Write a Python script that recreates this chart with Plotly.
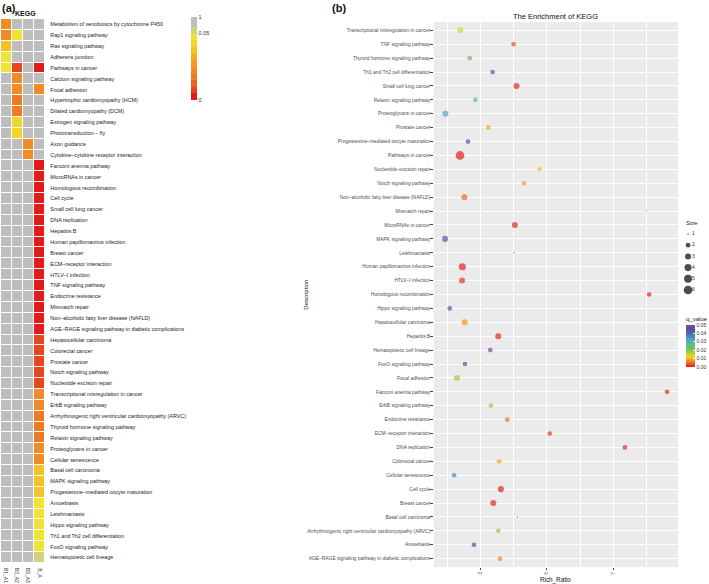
import plotly.graph_objects as go

FONT = "Liberation Sans, Arial, sans-serif"
W, H = 709, 584

# ---------------- Panel (a) data: pheatmap of KEGG p-values (1.0 = not enriched)
heat_rows = [
    "Metabolism of xenobiotics by cytochrome P450", "Rap1 signaling pathway", "Ras signaling pathway",
    "Adherens junction", "Pathways in cancer", "Calcium signaling pathway", "Focal adhesion",
    "Hypertrophic cardiomyopathy (HCM)", "Dilated cardiomyopathy (DCM)", "Estrogen signaling pathway",
    "Phototransduction \u2013 fly", "Axon guidance", "Cytokine\u2013cytokine receptor interaction",
    "Fanconi anemia pathway", "MicroRNAs in cancer", "Homologous recombination", "Cell cycle",
    "Small cell lung cancer", "DNA replication", "Hepatitis B", "Human papillomavirus infection",
    "Breast cancer", "ECM\u2013receptor interaction", "HTLV\u2013I infection", "TNF signaling pathway",
    "Endocrine resistance", "Mismatch repair", "Non\u2013alcoholic fatty liver disease (NAFLD)",
    "AGE\u2013RAGE signaling pathway in diabetic complications", "Hepatocellular carcinoma",
    "Colorectal cancer", "Prostate cancer", "Notch signaling pathway", "Nucleotide excision repair",
    "Transcriptional misregulation in cancer", "ErbB signaling pathway",
    "Arrhythmogenic right ventricular cardiomyopathy (ARVC)", "Thyroid hormone signaling pathway",
    "Relaxin signaling pathway", "Proteoglycans in cancer", "Cellular senescence",
    "Basal cell carcinoma", "MAPK signaling pathway", "Progesterone\u2013mediated oocyte maturation",
    "Amoebiasis", "Leishmaniasis", "Hippo signaling pathway", "Th1 and Th2 cell differentiation",
    "FoxO signaling pathway", "Hematopoietic cell lineage",
]
heat_cols = ["B1_A1", "B2_A2", "B3_A3", "B_A"]

p_B1_A1 = [0.023, 0.023, 0.037, 0.046, 0.048] + [1.0] * 45
p_B2_A2 = [1.0, 0.046, 1.0, 1.0, 0.007, 0.021, 0.021, 0.015, 0.015, 0.040, 0.040] + [1.0] * 39
p_B3_A3 = [1.0] * 11 + [0.021, 0.021] + [1.0] * 37
p_B_A = ([1.0, 1.0, 1.0, 1.0, 0.001, 1.0, 0.021] + [1.0] * 6 +
         [0.001, 0.001, 0.001, 0.001, 0.001, 0.001, 0.001, 0.002, 0.002, 0.002, 0.002,
          0.002, 0.002, 0.003, 0.003, 0.003] +
         [0.008, 0.008, 0.008, 0.008, 0.008] +
         [0.021, 0.021, 0.017, 0.017, 0.017, 0.021, 0.021] +
         [0.036, 0.036, 0.036] +
         [0.046, 0.046, 0.046, 0.046, 0.046] +
         [0.050])

heat_legend_ticks = ["0", "0.05", "1"]

# ---------------- Panel (b) data: bubble chart
terms = [
    "Transcriptional misregulation in cancer", "TNF signaling pathway", "Thyroid hormone signaling pathway",
    "Th1 and Th2 cell differentiation", "Small cell lung cancer", "Relaxin signaling pathway",
    "Proteoglycans in cancer", "Prostate cancer", "Progesterone\u2013mediated oocyte maturation",
    "Pathways in cancer", "Nucleotide excision repair", "Notch signaling pathway",
    "Non\u2013alcoholic fatty liver disease (NAFLD)", "Mismatch repair", "MicroRNAs in cancer",
    "MAPK signaling pathway", "Leishmaniasis", "Human papillomavirus infection", "HTLV\u2013I infection",
    "Homologous recombination", "Hippo signaling pathway", "Hepatocellular carcinoma", "Hepatitis B",
    "Hematopoietic cell lineage", "FoxO signaling pathway", "Focal adhesion", "Fanconi anemia pathway",
    "ErbB signaling pathway", "Endocrine resistance", "ECM\u2013receptor interaction", "DNA replication",
    "Colorectal cancer", "Cellular senescence", "Cell cycle", "Breast cancer", "Basal cell carcinoma",
    "Arrhythmogenic right ventricular cardiomyopathy (ARVC)", "Amoebiasis",
    "AGE\u2013RAGE signaling pathway in diabetic complications",
]
rich_ratio = [2.40, 4.00, 2.68, 3.37, 4.09, 2.85, 1.95, 3.24, 2.63, 2.39, 4.78, 4.31, 2.52,
              8.00, 4.04, 1.94, 4.01, 2.46, 2.45, 8.08, 2.08, 2.53, 3.54, 3.30, 2.54, 2.30,
              8.62, 3.32, 3.81, 5.09, 7.35, 3.57, 2.21, 3.62, 3.39, 4.12, 3.54, 2.81, 3.59]
gene_size = [3, 2, 2, 2, 3, 2, 3, 2, 2, 6, 2, 2, 3,
             1, 3, 3, 1, 4, 3, 2, 2, 3, 3, 2, 2, 3,
             2, 2, 2, 2, 2, 2, 2, 3, 3, 1, 2, 2, 2]
q_value = [0.014, 0.003, 0.022, 0.048, 0.001, 0.027, 0.032, 0.009, 0.045, 0.0001, 0.011, 0.009, 0.005,
           0.004, 0.001, 0.042, 0.044, 0.0005, 0.002, 0.001, 0.048, 0.008, 0.001, 0.049, 0.047, 0.018,
           0.001, 0.018, 0.005, 0.002, 0.001, 0.009, 0.036, 0.0005, 0.001, 0.043, 0.019, 0.045, 0.007]
size_levels = [1, 2, 3, 4, 5, 6]
q_ticks = [0.00, 0.01, 0.02, 0.03, 0.04, 0.05]

# ---------------- helpers
D05 = 67.3 / 82.7  # position of 0.05 on the (a) colour key


def to_display(p):
    if p <= 0.05:
        return p / 0.05 * D05
    return D05 + (p - 0.05) / 0.95 * (1 - D05)


def dot_px(s, smin=1, smax=6):
    # ggplot2 area scale, range c(1, 6)
    return 1.45 * (1 + 5 * ((s - smin) / (smax - smin)) ** 0.5)


def px_x(v):
    return v / W


def px_y(v):
    return 1 - v / H


bands = [(0.00, 0.08, "#E31A1C"), (0.08, 0.16, "#E6461F"), (0.16, 0.24, "#EA6224"),
         (0.24, 0.32, "#EE7A26"), (0.32, 0.40, "#F08C27"), (0.40, 0.48, "#F29C24"),
         (0.48, 0.56, "#F2AE22"), (0.56, 0.64, "#F3C224"), (0.64, 0.72, "#F2D42A"),
         (0.72, 0.80, "#EFE436"), (0.80, 0.88, "#D6D07C"), (0.88, 1.00, "#BEBEBE")]
heat_cs = []
for lo, hi, c in bands:
    heat_cs += [[lo, c], [hi, c]]

z = [[to_display(v) for v in row] for row in zip(p_B1_A1, p_B2_A2, p_B3_A3, p_B_A)]

q_cs = [[0.00, "#E41A1C"], [0.08, "#EE5A24"], [0.16, "#F5961F"], [0.23, "#F2D21C"],
        [0.30, "#C9D92D"], [0.42, "#78C04A"], [0.54, "#5CBB9A"], [0.66, "#52A2CC"],
        [0.80, "#4868B0"], [0.90, "#5A50A4"], [1.00, "#8247A2"]]

fig = go.Figure()

fig.add_trace(go.Heatmap(
    z=z, x=heat_cols, y=heat_rows, xaxis="x", yaxis="y",
    zmin=0, zmax=1, colorscale=heat_cs, xgap=1, ygap=1,
    hoverinfo="skip",
    colorbar=dict(
        x=px_x(192), xanchor="left", y=px_y(58.7), yanchor="middle",
        len=82.7 / H, lenmode="fraction", thickness=6, thicknessmode="pixels",
        outlinewidth=0, ticks="", tickmode="array",
        tickvals=[to_display(float(t)) for t in heat_legend_ticks], ticktext=heat_legend_ticks,
        tickfont=dict(size=5.5, color="#333", family=FONT), ypad=0, xpad=0,
    ),
))

fig.add_trace(go.Scatter(
    x=rich_ratio, y=terms, xaxis="x2", yaxis="y2", mode="markers",
    marker=dict(
        size=[dot_px(s) for s in gene_size], color=q_value, cmin=0, cmax=0.05,
        colorscale=q_cs, line=dict(width=0),
        colorbar=dict(
            x=px_x(688), xanchor="left", y=px_y(340.4), yanchor="middle",
            len=52.7 / H, lenmode="fraction", thickness=9, thicknessmode="pixels",
            outlinewidth=0, ticks="inside", ticklen=2, tickcolor="white",
            tickvals=q_ticks, ticktext=[f"{t:.2f}" for t in q_ticks],
            tickfont=dict(size=5, color="#333", family=FONT), ypad=0, xpad=0,
            title=dict(text="q_value", side="top", font=dict(size=6, color="#222", family=FONT)),
        ),
    ),
    showlegend=False, hoverinfo="skip",
))

# size key
fig.add_trace(go.Scatter(
    x=[6] * len(size_levels), y=size_levels, xaxis="x3", yaxis="y3", mode="markers",
    marker=dict(size=[dot_px(s) for s in size_levels], color="black", line=dict(width=0)),
    showlegend=False, hoverinfo="skip",
))
fig.add_trace(go.Scatter(
    x=[10] * len(size_levels), y=size_levels, xaxis="x3", yaxis="y3", mode="text",
    text=[str(s) for s in size_levels], textposition="middle right",
    textfont=dict(size=5, color="#333", family=FONT),
    showlegend=False, hoverinfo="skip",
))

col_label_annotations = [
    dict(text=c, x=c, xref="x", y=px_y(566), yref="paper", xanchor="center", yanchor="top",
         textangle=90, showarrow=False, font=dict(size=5, color="#333"))
    for c in heat_cols
]

fig.update_layout(
    width=W, height=H, autosize=False,
    margin=dict(l=0, r=0, t=0, b=0),
    paper_bgcolor="white", plot_bgcolor="white",
    font=dict(family=FONT, color="#333"),
    xaxis=dict(domain=[px_x(1), px_x(45.5)], showgrid=False, zeroline=False,
               showticklabels=False, ticks="", fixedrange=True, showline=False,
               categoryorder="array", categoryarray=heat_cols),
    yaxis=dict(domain=[px_y(563), px_y(19)], side="right", autorange="reversed",
               showgrid=False, zeroline=False, ticks="", ticklen=0,
               tickfont=dict(size=5.4, color="#222"), ticklabelstandoff=4,
               categoryorder="array", categoryarray=heat_rows),
    xaxis2=dict(domain=[px_x(435), px_x(680)], range=[1.6, 8.95], anchor="y2",
                tickmode="linear", tick0=3, dtick=2,
                showgrid=True, gridcolor="white", gridwidth=1,
                minor=dict(dtick=1, showgrid=True, gridcolor="white", gridwidth=0.6),
                zeroline=False, ticks="outside", ticklen=2, tickcolor="#444", tickwidth=0.6,
                tickangle=-90, tickfont=dict(size=5, color="#4D4D4D"), showline=False),
    yaxis2=dict(domain=[px_y(567), px_y(22)], anchor="x2", range=[38.6, -0.6],
                categoryorder="array", categoryarray=terms, type="category",
                showgrid=True, gridcolor="white", gridwidth=1, zeroline=False,
                ticks="outside", ticklen=2.5, tickcolor="#444", tickwidth=0.6,
                tickfont=dict(size=4.9, color="#4D4D4D"), ticklabelstandoff=-1, showline=False),
    xaxis3=dict(domain=[px_x(684), px_x(709)], range=[0, 25], anchor="y3", visible=False,
                fixedrange=True),
    yaxis3=dict(domain=[px_y(295.6), px_y(228.4)], range=[6.5, 0.5], anchor="x3", visible=False,
                fixedrange=True),
    shapes=[dict(type="rect", xref="x2 domain", yref="y2 domain", x0=0, x1=1, y0=0, y1=1,
                 fillcolor="#EBEBEB", line=dict(width=0), layer="below")],
    annotations=col_label_annotations + [
        dict(text="<b>(a)</b>", x=px_x(0), y=px_y(0), xref="paper", yref="paper",
             xanchor="left", yanchor="top", showarrow=False, font=dict(size=11, color="#111")),
        dict(text="<b>KEGG</b>", x=px_x(13), y=px_y(13), xref="paper", yref="paper",
             xanchor="left", yanchor="middle", showarrow=False, font=dict(size=7, color="#111")),
        dict(text="<b>(b)</b>", x=px_x(331), y=px_y(0), xref="paper", yref="paper",
             xanchor="left", yanchor="top", showarrow=False, font=dict(size=11, color="#111")),
        dict(text="The Enrichment of KEGG", x=px_x(557.5), y=px_y(16), xref="paper", yref="paper",
             xanchor="center", yanchor="middle", showarrow=False, font=dict(size=7.5, color="#111")),
        dict(text="Description", x=px_x(306), y=px_y(294.5), xref="paper", yref="paper",
             xanchor="center", yanchor="middle", textangle=-90, showarrow=False,
             font=dict(size=6, color="#111")),
        dict(text="Rich_Ratio", x=px_x(557.5), y=px_y(580), xref="paper", yref="paper",
             xanchor="center", yanchor="middle", showarrow=False, font=dict(size=6.3, color="#111")),
        dict(text="Size", x=px_x(686), y=px_y(223), xref="paper", yref="paper",
             xanchor="left", yanchor="middle", showarrow=False, font=dict(size=6, color="#222")),
    ],
)

fig.write_html(
    "out.html",
    config={"displayModeBar": False},
    post_script="document.body.style.margin='0px';document.body.style.overflow='hidden';",
)
